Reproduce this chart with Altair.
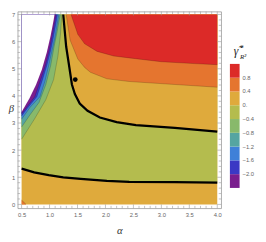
import altair as alt
import pandas as pd

# ---------------- data ----------------
alpha_major = [0.5, 1.0, 1.5, 2.0, 2.5, 3.0, 3.5, 4.0]
alpha_minor = [round(0.5 + 0.1 * i, 1) for i in range(36) if i % 5 != 0]
beta_major = [0, 1, 2, 3, 4, 5, 6, 7]
beta_minor = [round(0.2 * i, 1) for i in range(36) if i % 5 != 0]

levels = [-2.0, -1.6, -1.2, -0.8, -0.4, 0.0, 0.4, 0.8]
band_colors = ["#7a1e8e", "#3b38c4", "#3f80d8", "#55a5a1", "#88b96b",
               "#b4bc4e", "#dfaa3c", "#e5752f", "#dc2a28"]

# zero contour, upper branch (thick black)
zero_up_a = [1.245, 1.297, 1.349, 1.40, 1.453, 1.54, 1.68, 1.90, 2.20, 2.545, 3.24, 4.0]
zero_up_b = [7.0, 5.82, 5.12, 4.42, 4.07, 3.72, 3.45, 3.20, 3.03, 2.92, 2.82, 2.68]
# zero contour, lower branch (thick black)
zero_lo_a = [0.5, 0.725, 0.985, 1.245, 1.557, 2.025, 2.424, 3.24, 4.0]
zero_lo_b = [1.32, 1.18, 1.08, 1.0, 0.94, 0.87, 0.83, 0.82, 0.80]
# 0.4 contour (upper right)
c04_a = [1.297, 1.367, 1.505, 1.627, 1.73, 2.025, 2.424, 3.24, 4.0]
c04_b = [7.0, 6.06, 5.36, 5.05, 4.87, 4.63, 4.53, 4.42, 4.32]
# 0.8 contour
c08_a = [1.384, 1.505, 1.627, 1.85, 2.146, 2.424, 2.996, 3.585, 4.0]
c08_b = [7.0, 6.27, 5.92, 5.64, 5.47, 5.40, 5.26, 5.19, 5.15]
# 0.4 contour in the bottom-left corner
c04c_a = [0.5, 0.54, 0.58]
c04c_b = [0.16, 0.08, 0.0]
# negative contours on the left
cm04_a = [0.5, 0.725, 0.933, 1.072, 1.15, 1.193, 1.219]
cm04_b = [2.40, 3.13, 3.86, 4.60, 5.47, 6.23, 7.0]
cm08_a = [0.5, 0.639, 0.812, 0.933, 1.02, 1.081, 1.133, 1.172, 1.193]
cm08_b = [2.85, 3.27, 3.76, 4.42, 5.12, 5.82, 6.34, 6.79, 7.0]
cm12_a = [0.5, 0.656, 0.829, 0.916, 0.985, 1.046, 1.098, 1.141, 1.167]
cm12_b = [3.14, 3.59, 3.97, 4.53, 5.12, 5.68, 6.16, 6.69, 7.0]
cm16_a = [0.5, 0.621, 0.772, 0.864, 0.951, 1.02, 1.068, 1.115, 1.141]
cm16_b = [3.26, 3.59, 3.97, 4.53, 5.12, 5.68, 6.16, 6.69, 7.0]
cm20_a = [0.5, 0.604, 0.737, 0.829, 0.925, 0.994, 1.041, 1.089, 1.115]
cm20_b = [3.34, 3.62, 3.97, 4.53, 5.12, 5.68, 6.16, 6.69, 7.0]
# edge of the defined region (white beyond)
edge_a = [0.5, 0.639, 0.760, 0.864, 0.951, 1.02, 1.072, 1.089]
edge_b = [3.41, 3.90, 4.42, 4.98, 5.61, 6.23, 6.79, 7.0]

point_a = [1.46]
point_b = [4.6]

# ---------------- chart ----------------
W, H = 210, 203
xs = alt.Scale(domain=[0.43, 4.07], nice=False, zero=False)
ys = alt.Scale(domain=[-0.143, 7.107], nice=False, zero=False)
cs = alt.Scale(type="threshold", domain=levels, range=band_colors)
legend = alt.Legend(
    type="gradient", orient="none", legendX=219, legendY=54, direction="vertical",
    title=None, gradientLength=128, gradientThickness=10, gradientStrokeWidth=0,
    labelFont="Liberation Sans", labelFontSize=6, labelColor="#666", labelOffset=3,
    labelExpr="isFinite(datum.value) ? (datum.value == 0 ? '0.' : format(datum.value, '.1f')) : ''",
    padding=0)

xaxis = alt.Axis(values=alpha_major, format=".1f", ticks=False, domain=False,
                 grid=False, labelFont="Liberation Sans", labelFontSize=6,
                 labelColor="#666", labelPadding=3, titleFont="Liberation Serif",
                 titleFontStyle="italic", titleFontWeight="normal",
                 titleFontSize=11, titleColor="#333", titlePadding=8)
yaxis = alt.Axis(values=beta_major, format="d", ticks=False, domain=False,
                 grid=False, labelFont="Liberation Sans", labelFontSize=6,
                 labelColor="#666", labelPadding=3, titleFont="Liberation Serif",
                 titleFontStyle="italic", titleFontWeight="normal",
                 titleFontSize=11, titleColor="#333", titleAngle=0,
                 titleX=-7, titleY=100, titleAlign="center",
                 titleBaseline="middle")


def X(field):
    return alt.X(field, scale=xs, axis=xaxis, title="α")


def Y(field):
    return alt.Y(field, scale=ys, axis=yaxis, title="β")


def above(a_list, b_list, z=None, color=None):
    df = pd.DataFrame({"a": a_list, "b": b_list, "t": [7.0] * len(a_list),
                       "z": [z if z is not None else 0.0] * len(a_list)})
    enc = dict(x=X("a:Q"), y=Y("b:Q"), y2="t:Q")
    if color is None:
        enc["color"] = alt.Color("z:Q", scale=cs, legend=legend)
    else:
        enc["color"] = alt.value(color)
    return alt.Chart(df).mark_area(orient="vertical", clip=True).encode(**enc)


def base_rect():
    df = pd.DataFrame({"a": [0.5, 4.0], "b": [0.0, 0.0], "t": [7.0, 7.0], "z": [0.2, 0.2]})
    return alt.Chart(df).mark_area(orient="vertical", clip=True).encode(
        x=X("a:Q"), y=Y("b:Q"), y2="t:Q",
        color=alt.Color("z:Q", scale=cs, legend=legend))


def corner():
    df = pd.DataFrame({"a": c04c_a, "lo": [0.0] * 3, "b": c04c_b, "z": [0.6] * 3})
    return alt.Chart(df).mark_area(orient="vertical", clip=True).encode(
        x=X("a:Q"), y=Y("lo:Q"), y2="b:Q",
        color=alt.Color("z:Q", scale=cs, legend=legend))


def line(a_list, b_list, width, color, opacity=1.0):
    df = pd.DataFrame({"a": a_list, "b": b_list})
    return alt.Chart(df).mark_line(strokeWidth=width, color=color, opacity=opacity,
                                   clip=True).encode(x=X("a:Q"), y=Y("b:Q"))


def ticks_x(vals, length, top):
    df = pd.DataFrame({"v": vals})
    y0 = 0 if top else H
    y1 = length if top else H - length
    return alt.Chart(df).mark_rule(color="#999", strokeWidth=0.6).encode(
        x=X("v:Q"), y=alt.value(y0), y2=alt.value(y1))


def ticks_y(vals, length, right):
    df = pd.DataFrame({"v": vals})
    x0 = W if right else 0
    x1 = W - length if right else length
    return alt.Chart(df).mark_rule(color="#999", strokeWidth=0.6).encode(
        y=Y("v:Q"), x=alt.value(x0), x2=alt.value(x1))


def txt(s, x, y, size, style="italic", align="left"):
    return alt.Chart(alt.Data(values=[{}])).mark_text(
        text=s, font="Liberation Serif", fontStyle=style, fontSize=size, color="#222",
        align=align, baseline="alphabetic").encode(x=alt.value(x), y=alt.value(y))


layers = [
    base_rect(),
    corner(),
    above(zero_lo_a, zero_lo_b, -0.2),
    above(zero_up_a, zero_up_b, 0.2),
    above(c04_a, c04_b, 0.6),
    above(c08_a, c08_b, 1.0),
    above(cm04_a, cm04_b, -0.6),
    above(cm08_a, cm08_b, -1.0),
    above(cm12_a, cm12_b, -1.4),
    above(cm16_a, cm16_b, -1.8),
    above(cm20_a, cm20_b, -2.2),
    above(edge_a, edge_b, color="white"),
]
for a_l, b_l in [(c04_a, c04_b), (c08_a, c08_b), (c04c_a, c04c_b), (cm04_a, cm04_b),
                 (cm08_a, cm08_b), (cm12_a, cm12_b), (cm16_a, cm16_b), (cm20_a, cm20_b)]:
    layers.append(line(a_l, b_l, 0.6, "#000", 0.3))
layers.append(line(zero_up_a, zero_up_b, 2.3, "#000"))
layers.append(line(zero_lo_a, zero_lo_b, 2.3, "#000"))
layers.append(alt.Chart(pd.DataFrame({"a": point_a, "b": point_b})).mark_point(
    filled=True, color="#000", size=24, opacity=1).encode(x=X("a:Q"), y=Y("b:Q")))
layers += [
    ticks_x(alpha_major, 4, False), ticks_x(alpha_minor, 2.5, False),
    ticks_x(alpha_major, 4, True), ticks_x(alpha_minor, 2.5, True),
    ticks_y(beta_major, 4, False), ticks_y(beta_minor, 2.5, False),
    ticks_y(beta_major, 4, True), ticks_y(beta_minor, 2.5, True),
]
layers += [
    txt("γ̃", 223, 45, 12),
    txt("*", 229.5, 41, 8, style="normal"),
    txt("R²", 229.5, 49, 7),
]

chart = alt.layer(*layers).properties(
    width=W, height=H,
    autosize=alt.AutoSizeParams(type="none"),
    padding={"left": 10, "top": 0, "right": 38, "bottom": 28},
).configure_view(stroke="#999", strokeWidth=0.8)

chart.save("out.html", embed_options={"renderer": "svg", "actions": False})
